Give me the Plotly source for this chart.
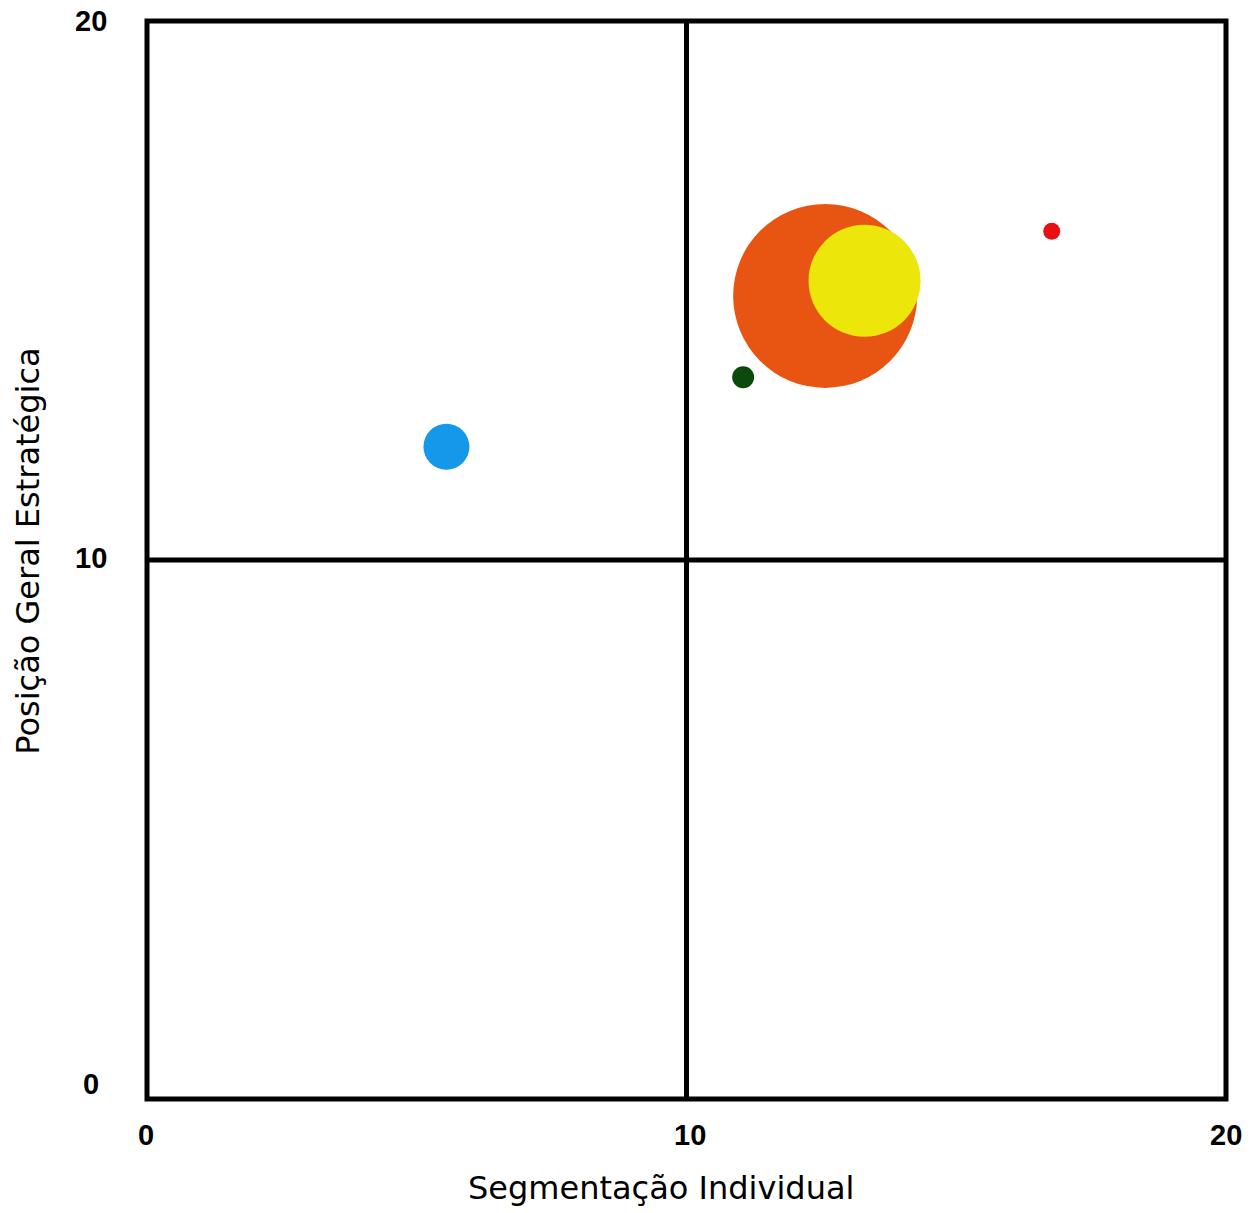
import plotly.graph_objects as go

# Data
names = ["Azul", "Verde", "Laranja", "Amarelo", "Vermelho"]
x_vals = [5.55, 11.05, 12.57, 13.30, 16.77]
y_vals = [12.10, 13.39, 14.90, 15.18, 16.10]
bubble_sizes = [46, 22, 184, 112, 17]
colors = ["#1597ea", "#0c4a0c", "#e85512", "#ede60a", "#e81010"]
tick_values = [0, 10, 20]
tick_labels = ["0", "10", "20"]
x_title = "Segmentação Individual"
y_title = "Posição Geral Estratégica"

fig = go.Figure()
for n, xv, yv, s, c in zip(names, x_vals, y_vals, bubble_sizes, colors):
    fig.add_trace(go.Scatter(
        x=[xv], y=[yv], mode="markers", name=n,
        marker=dict(size=s, sizemode="diameter", color=c, opacity=1,
                    line=dict(width=0)),
        showlegend=False, hoverinfo="x+y",
    ))

W, H = 1258, 1213
ml, mr, mt, mb = 146.5, 32, 21, 113.5

fig.update_layout(
    width=W, height=H,
    margin=dict(l=ml, r=mr, t=mt, b=mb, pad=0),
    paper_bgcolor="white", plot_bgcolor="white",
    xaxis=dict(range=[0, 20], showgrid=False, zeroline=False, showticklabels=False,
               ticks="", showline=False, fixedrange=True),
    yaxis=dict(range=[0, 20], showgrid=False, zeroline=False, showticklabels=False,
               ticks="", showline=False, fixedrange=True),
    font=dict(family="Liberation Sans, Arial, sans-serif", color="black"),
)

lw = 5
# frame (paper-referenced so it is not clipped)
fig.add_shape(type="rect", xref="paper", yref="paper", x0=0, x1=1, y0=0, y1=1,
              line=dict(color="black", width=lw), layer="below")
# quadrant lines
fig.add_shape(type="line", xref="x", yref="paper", x0=10, x1=10, y0=0, y1=1,
              line=dict(color="black", width=lw), layer="below")
fig.add_shape(type="line", xref="paper", yref="y", x0=0, x1=1, y0=10, y1=10,
              line=dict(color="black", width=lw), layer="below")

tick_font = dict(family="Liberation Sans, Arial, sans-serif", size=29, color="black")
# y tick labels
y_shifts = [15, 2, 0]
for v, t, ys in zip(tick_values, tick_labels, y_shifts):
    fig.add_annotation(x=0, y=v, xref="paper", yref="y", text="<b>%s</b>" % t,
                       showarrow=False, xanchor="center", yanchor="middle",
                       xshift=-56, yshift=ys, font=tick_font)
# x tick labels
x_shifts = [-1, 3, 0]
for v, t, xs in zip(tick_values, tick_labels, x_shifts):
    fig.add_annotation(x=v, y=0, xref="x", yref="paper", text="<b>%s</b>" % t,
                       showarrow=False, xanchor="center", yanchor="middle",
                       xshift=xs, yshift=-36, font=tick_font)

title_font = dict(family="DejaVu Sans, sans-serif", size=32, color="black")
fig.add_annotation(x=(661 - ml) / (W - ml - mr), y=0, xref="paper", yref="paper",
                   text=x_title, showarrow=False, xanchor="center", yanchor="middle",
                   yshift=-89, font=title_font)
fig.add_annotation(x=0, y=(1099.5 - 552) / (H - mt - mb), xref="paper", yref="paper",
                   text=y_title, showarrow=False, xanchor="center", yanchor="middle",
                   textangle=-90, xshift=-119, font=title_font)

fig.write_html("out.html", config={"displayModeBar": False},
               post_script="document.body.style.margin='0';document.body.style.padding='0';")
